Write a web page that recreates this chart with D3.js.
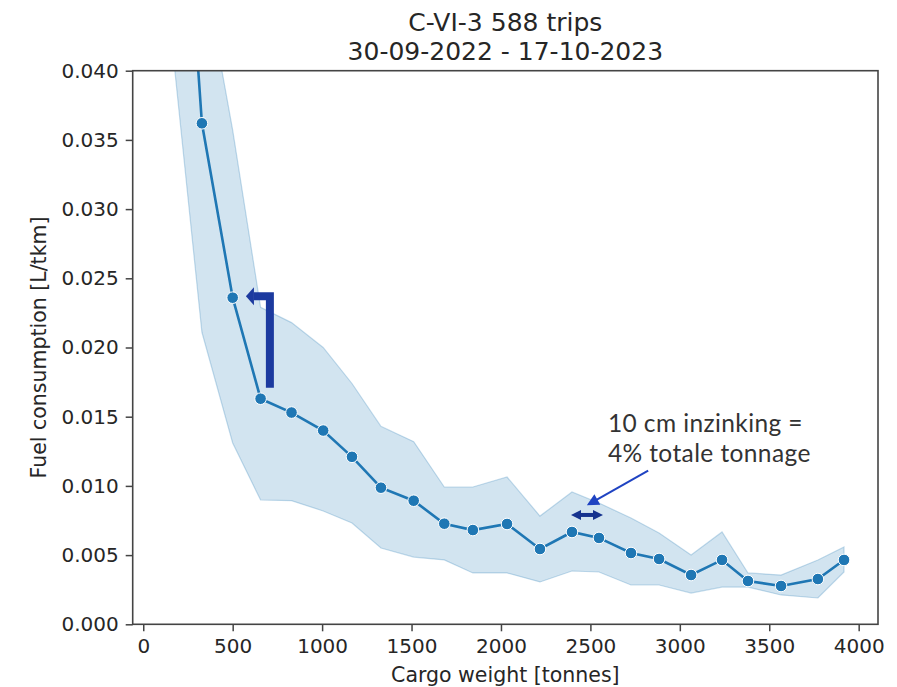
<!DOCTYPE html>
<html>
<head>
<meta charset="utf-8">
<script src="https://cdn.jsdelivr.net/npm/d3@7"></script>
<style>
  body { margin: 0; background: #fff; }
  text { font-family: "DejaVu Sans", sans-serif; fill: #262626; }
</style>
</head>
<body>
<svg id="chart" width="897" height="687"></svg>
<script>
// bin centres (tonnes) and mean fuel use with the band limits
const cargo = [131, 328, 500, 656, 829, 1006, 1167, 1329, 1512, 1683, 1843, 2034,
  2218, 2397, 2548, 2727, 2884, 3063, 3236, 3381, 3566, 3772, 3918];
const fuel = [0.0730, 0.0362, 0.0236, 0.0163, 0.0153, 0.0140, 0.0121, 0.00987, 0.00893,
  0.00727, 0.00681, 0.00725, 0.00544, 0.00667, 0.00624, 0.00515, 0.00472, 0.00356,
  0.00465, 0.00313, 0.00277, 0.00327, 0.00465];
const upper = [0.1000, 0.0480, 0.0357, 0.0229, 0.0218, 0.0200, 0.0174, 0.0143, 0.0132,
  0.00992, 0.00992, 0.01064, 0.00782, 0.00956, 0.00876, 0.00768, 0.00660, 0.00501,
  0.00667, 0.00371, 0.00356, 0.00465, 0.00558];
const lower = [0.0457, 0.0211, 0.0131, 0.00898, 0.00893, 0.00819, 0.00732, 0.00551,
  0.00486, 0.00465, 0.00371, 0.00371, 0.00306, 0.00385, 0.00378, 0.00284, 0.00284,
  0.00226, 0.00269, 0.00269, 0.00212, 0.00190, 0.00378];

const xTicks = [0, 500, 1000, 1500, 2000, 2500, 3000, 3500, 4000];
const yTicks = [0, 0.005, 0.010, 0.015, 0.020, 0.025, 0.030, 0.035, 0.040];

const titleLines = ["C-VI-3 588 trips", "30-09-2022 - 17-10-2023"];
const noteLines = ["10 cm inzinking =", "4% totale tonnage"];

const width = 897, height = 687;
const margin = { top: 70.7, right: 19, bottom: 62.7, left: 132.7 };
const blue = "#1f77b4";

const svg = d3.select("#chart");

const x = d3.scaleLinear().domain([-59, 4108]).range([margin.left, width - margin.right]);
const y = d3.scaleLinear().domain([0, 0.040]).range([height - margin.bottom, margin.top]);

svg.append("defs").append("clipPath").attr("id", "plot")
  .append("rect")
  .attr("x", margin.left).attr("y", margin.top)
  .attr("width", width - margin.left - margin.right)
  .attr("height", height - margin.top - margin.bottom);

const data = cargo.map((c, i) => ({ c, v: fuel[i], hi: upper[i], lo: lower[i] }));

const plot = svg.append("g").attr("clip-path", "url(#plot)");

// confidence band
plot.append("path")
  .datum(data)
  .attr("fill", blue)
  .attr("fill-opacity", 0.2)
  .attr("stroke", blue)
  .attr("stroke-opacity", 0.25)
  .attr("stroke-width", 1.2)
  .attr("d", d3.area().x(d => x(d.c)).y0(d => y(d.lo)).y1(d => y(d.hi)));

plot.append("path")
  .datum(data)
  .attr("fill", "none")
  .attr("stroke", blue)
  .attr("stroke-width", 2.6)
  .attr("d", d3.line().x(d => x(d.c)).y(d => y(d.v)));

plot.selectAll("circle")
  .data(data)
  .join("circle")
  .attr("cx", d => x(d.c))
  .attr("cy", d => y(d.v))
  .attr("r", 5.8)
  .attr("fill", blue)
  .attr("stroke", "#fff")
  .attr("stroke-width", 1);

// axes
const xAxis = svg.append("g")
  .attr("transform", `translate(0,${height - margin.bottom})`)
  .call(d3.axisBottom(x).tickValues(xTicks).tickFormat(d3.format("d")).tickSize(7).tickPadding(8));
const yAxis = svg.append("g")
  .attr("transform", `translate(${margin.left},0)`)
  .call(d3.axisLeft(y).tickValues(yTicks).tickFormat(d3.format(".3f")).tickSize(7).tickPadding(7));

[xAxis, yAxis].forEach(g => {
  g.select(".domain").remove();
  g.selectAll(".tick line").attr("stroke", "#444").attr("stroke-width", 1.5);
  g.selectAll(".tick text")
    .attr("fill", "#333")
    .style("font-family", "DejaVu Sans")
    .style("font-size", "20px");
});

svg.append("rect")
  .attr("x", margin.left).attr("y", margin.top)
  .attr("width", width - margin.left - margin.right)
  .attr("height", height - margin.top - margin.bottom)
  .attr("fill", "none")
  .attr("stroke", "#444")
  .attr("stroke-width", 1.6);

// titles and labels
const cx = (margin.left + width - margin.right) / 2;
svg.append("g").selectAll("text")
  .data(titleLines)
  .join("text")
  .attr("x", cx)
  .attr("y", (d, i) => 31 + i * 29)
  .attr("text-anchor", "middle")
  .style("font-size", "25px")
  .text(d => d);

svg.append("text")
  .attr("x", cx)
  .attr("y", 682)
  .attr("text-anchor", "middle")
  .style("font-size", "20.5px")
  .text("Cargo weight [tonnes]");

svg.append("text")
  .attr("transform", `translate(46,${(margin.top + height - margin.bottom) / 2}) rotate(-90)`)
  .attr("text-anchor", "middle")
  .style("font-size", "20.5px")
  .text("Fuel consumption [L/tkm]");

// annotations (positions in data units)
const elbow = { x: 708, yBottom: 0.0171, yTop: 0.0237, tipX: 574 };
const span = { x0: 2386, x1: 2576, y: 0.0079 };
const pointer = { x0: 2823, y0: 0.0111, x1: 2492, y1: 0.00868 };
const note = { x: 2598, y: 0.01389, lineGap: 30 };

const ann = svg.append("g");
const darkBlue = "#1c3a9f";

const headBase = x(elbow.tipX) + 8;
ann.append("path")
  .attr("d", `M${x(elbow.x)},${y(elbow.yBottom)}V${y(elbow.yTop)}H${headBase}`)
  .attr("fill", "none")
  .attr("stroke", darkBlue)
  .attr("stroke-width", 8)
  .attr("stroke-linejoin", "miter");
ann.append("path")
  .attr("d", `M${x(elbow.tipX)},${y(elbow.yTop)}L${headBase},${y(elbow.yTop) - 9}L${headBase},${y(elbow.yTop) + 9}Z`)
  .attr("fill", darkBlue);

const defs = svg.select("defs");
defs.append("marker")
  .attr("id", "dhead")
  .attr("viewBox", "0 0 10 10")
  .attr("refX", 6).attr("refY", 5)
  .attr("markerWidth", 2.6).attr("markerHeight", 3)
  .attr("orient", "auto-start-reverse")
  .append("path").attr("d", "M0,0L10,5L0,10Z").attr("fill", "#16338f");
defs.append("marker")
  .attr("id", "phead")
  .attr("viewBox", "0 0 10 10")
  .attr("refX", 8).attr("refY", 5)
  .attr("markerWidth", 7.5).attr("markerHeight", 6)
  .attr("orient", "auto")
  .append("path").attr("d", "M0,0L10,5L0,10Z").attr("fill", "#1f43c2");

ann.append("line")
  .attr("x1", x(span.x0) + 5).attr("x2", x(span.x1) - 5)
  .attr("y1", y(span.y)).attr("y2", y(span.y))
  .attr("stroke", "#16338f")
  .attr("stroke-width", 4)
  .attr("marker-start", "url(#dhead)")
  .attr("marker-end", "url(#dhead)");

ann.append("line")
  .attr("x1", x(pointer.x0)).attr("y1", y(pointer.y0))
  .attr("x2", x(pointer.x1)).attr("y2", y(pointer.y1))
  .attr("stroke", "#1f43c2")
  .attr("stroke-width", 2)
  .attr("marker-end", "url(#phead)");

ann.selectAll("text.note")
  .data(noteLines)
  .join("text")
  .attr("class", "note")
  .attr("x", x(note.x))
  .attr("y", (d, i) => y(note.y) + i * note.lineGap)
  .style("font-family", "Lato, 'Open Sans', sans-serif")
  .style("font-size", "24.5px")
  .style("letter-spacing", "0.4px")
  .style("fill", "#333")
  .text(d => d);
</script>
</body>
</html>
